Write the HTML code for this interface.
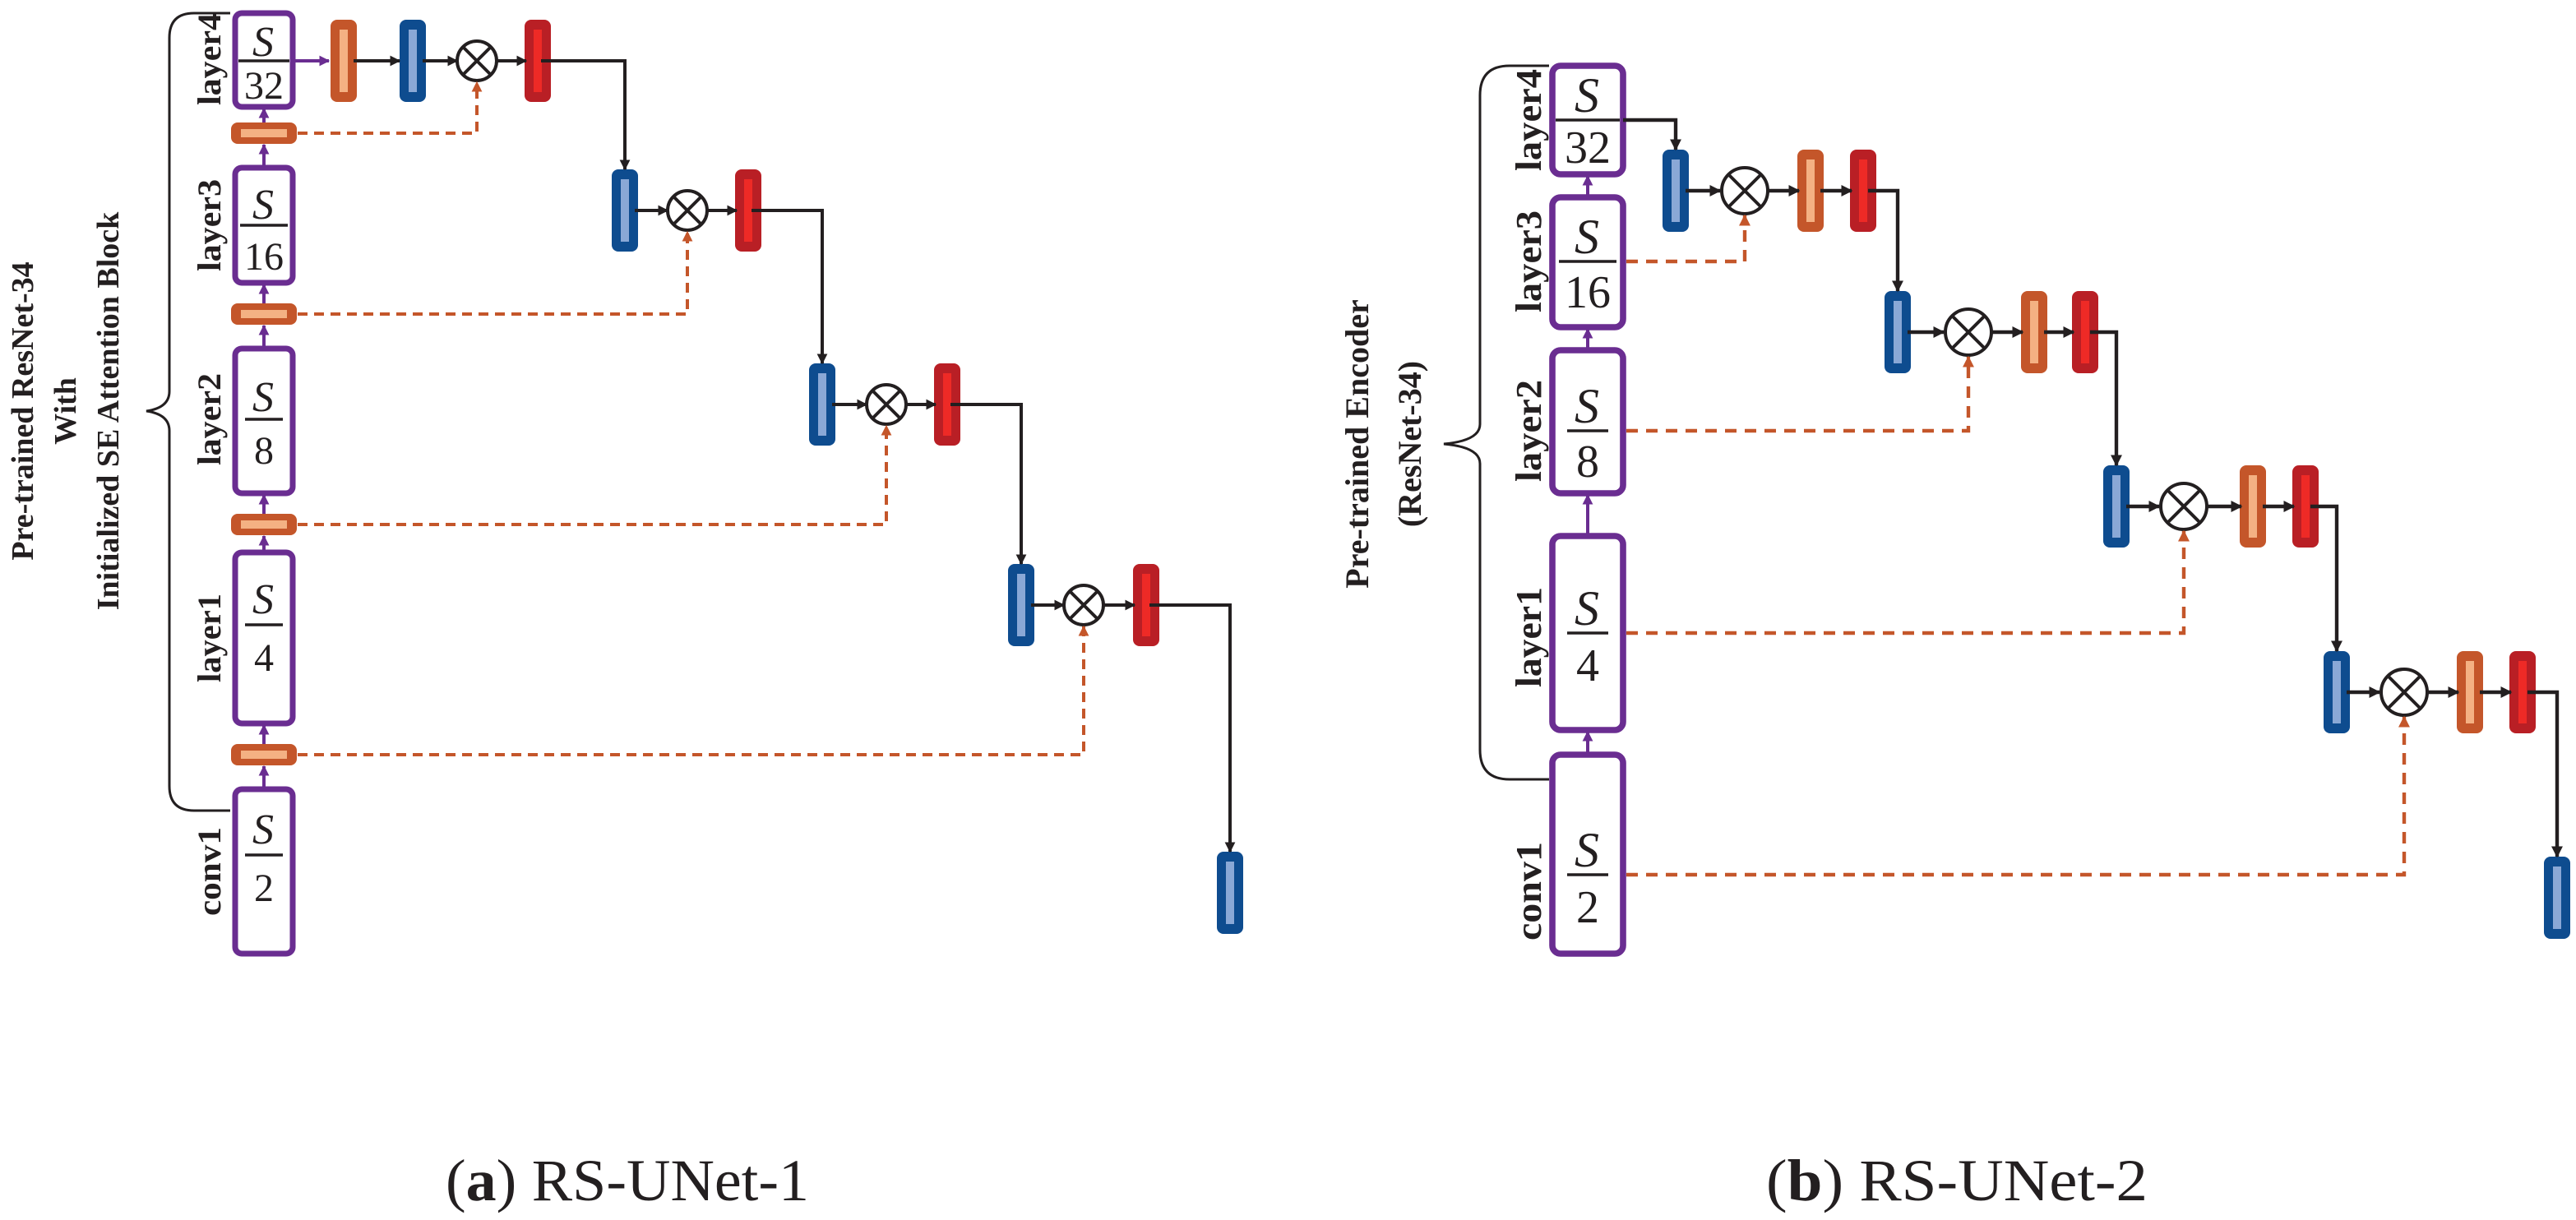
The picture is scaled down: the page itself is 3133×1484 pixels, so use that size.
<!DOCTYPE html>
<html><head><meta charset="utf-8"><style>
html,body{margin:0;padding:0;background:#fff;}
svg{display:block;}
text{font-family:"Liberation Serif",serif;fill:#231f20;}
.lb{font-weight:bold;font-size:20px;}
.t{font-weight:bold;font-size:19px;}
.S{font-style:italic;font-size:26px;}
.n{font-size:24px;}
</style></head><body>
<svg width="3133" height="1484" viewBox="0 0 1566.5 742" xmlns="http://www.w3.org/2000/svg">
<defs>
<marker id="ab" viewBox="0 0 10 10" refX="9" refY="5" markerWidth="3.2" markerHeight="3.2" orient="auto"><path d="M0,0L10,5L0,10z" fill="#231f20"/></marker>
<marker id="ap" viewBox="0 0 10 10" refX="9" refY="5" markerWidth="3.2" markerHeight="3.2" orient="auto"><path d="M0,0L10,5L0,10z" fill="#6a2d91"/></marker>
<marker id="ao" viewBox="0 0 10 10" refX="9" refY="5" markerWidth="3.2" markerHeight="3.2" orient="auto"><path d="M0,0L10,5L0,10z" fill="#c4562a"/></marker>
<g id="B"><rect x="-8" y="-25" width="16" height="50" rx="4" fill="#0e4c8f"/><rect x="-2.5" y="-19" width="5" height="38" fill="#8aa8d6"/></g>
<g id="O"><rect x="-8" y="-25" width="16" height="50" rx="4" fill="#c4562a"/><rect x="-2.5" y="-19" width="5" height="38" fill="#f4b183"/></g>
<g id="R"><rect x="-8" y="-25" width="16" height="50" rx="4" fill="#b91f25"/><rect x="-2.5" y="-19" width="5" height="38" fill="#ee2a26"/></g>
<g id="H"><rect x="-20" y="-6.5" width="40" height="13" rx="4" fill="#c4562a"/><rect x="-14" y="-2.5" width="28" height="5" fill="#f4b183"/></g>
<g id="X"><circle r="12" fill="#fff" stroke="#231f20" stroke-width="2"/><path d="M-8.5,-8.5L8.5,8.5M8.5,-8.5L-8.5,8.5" stroke="#231f20" stroke-width="2"/></g>
<g id="X2"><circle r="14" fill="#fff" stroke="#231f20" stroke-width="2"/><path d="M-10,-10L10,10M10,-10L-10,10" stroke="#231f20" stroke-width="2"/></g>
</defs>

<!-- ================= LEFT (a) ================= -->
<text class="t" transform="translate(20,250) rotate(-90)" text-anchor="middle">Pre-trained ResNet-34</text>
<text class="t" transform="translate(46,250) rotate(-90)" text-anchor="middle">With</text>
<text class="t" transform="translate(72,250) rotate(-90)" text-anchor="middle">Initialized SE Attention Block</text>
<path d="M140,8 H118 Q103,8 103,23 V238 Q103,248 89,250 Q103,252 103,262 V478 Q103,493 118,493 H140" fill="none" stroke="#231f20" stroke-width="1.5"/>

<g fill="#fff" stroke="#6a2d91" stroke-width="3.5">
<rect x="143" y="8" width="35" height="57" rx="4"/>
<rect x="143" y="102" width="35" height="70" rx="4"/>
<rect x="143" y="212" width="35" height="88" rx="4"/>
<rect x="143" y="336" width="35" height="104" rx="4"/>
<rect x="143" y="480" width="35" height="100" rx="4"/>
</g>
<g stroke="#6a2d91" stroke-width="2" marker-end="url(#ap)">
<line x1="160.5" y1="75" x2="160.5" y2="66"/>
<line x1="160.5" y1="102" x2="160.5" y2="88"/>
<line x1="160.5" y1="185" x2="160.5" y2="173"/>
<line x1="160.5" y1="212" x2="160.5" y2="198"/>
<line x1="160.5" y1="313" x2="160.5" y2="301"/>
<line x1="160.5" y1="336" x2="160.5" y2="326"/>
<line x1="160.5" y1="453" x2="160.5" y2="441"/>
<line x1="160.5" y1="480" x2="160.5" y2="466"/>
</g>
<use href="#H" x="160.5" y="81"/><use href="#H" x="160.5" y="191"/><use href="#H" x="160.5" y="319"/><use href="#H" x="160.5" y="459"/>
<g stroke="#231f20" stroke-width="1.8">
<line x1="145" y1="37" x2="176" y2="37"/>
<line x1="146" y1="137" x2="175" y2="137"/>
<line x1="149" y1="255" x2="172" y2="255"/>
<line x1="149" y1="380" x2="172" y2="380"/>
<line x1="149" y1="520" x2="172" y2="520"/>
</g>
<g text-anchor="middle">
<text class="S" x="160" y="34">S</text><text class="n" x="160.5" y="60">32</text>
<text class="S" x="160" y="133">S</text><text class="n" x="160.5" y="164">16</text>
<text class="S" x="160" y="250">S</text><text class="n" x="160.5" y="282">8</text>
<text class="S" x="160" y="373">S</text><text class="n" x="160.5" y="408">4</text>
<text class="S" x="160" y="513">S</text><text class="n" x="160.5" y="548">2</text>
</g>
<text class="lb" transform="translate(134,64) rotate(-90)" textLength="56" lengthAdjust="spacingAndGlyphs">layer4</text>
<text class="lb" transform="translate(134,165) rotate(-90)" textLength="56" lengthAdjust="spacingAndGlyphs">layer3</text>
<text class="lb" transform="translate(134,283) rotate(-90)" textLength="56" lengthAdjust="spacingAndGlyphs">layer2</text>
<text class="lb" transform="translate(134,415) rotate(-90)" textLength="54" lengthAdjust="spacingAndGlyphs">layer1</text>
<text class="lb" transform="translate(134,557) rotate(-90)" textLength="54" lengthAdjust="spacingAndGlyphs">conv1</text>

<!-- left decoder -->
<line x1="178" y1="37" x2="200" y2="37" stroke="#6a2d91" stroke-width="2" marker-end="url(#ap)"/>
<use href="#O" x="209" y="37"/><use href="#B" x="251" y="37"/><use href="#X" x="290" y="37"/><use href="#R" x="327" y="37"/>
<use href="#B" x="380" y="128"/><use href="#X" x="418" y="128"/><use href="#R" x="455" y="128"/>
<use href="#B" x="500" y="246"/><use href="#X" x="539" y="246"/><use href="#R" x="576" y="246"/>
<use href="#B" x="621" y="368"/><use href="#X" x="659" y="368"/><use href="#R" x="697" y="368"/>
<use href="#B" x="748" y="543"/>
<g stroke="#231f20" stroke-width="2" fill="none" marker-end="url(#ab)">
<line x1="215" y1="37" x2="243" y2="37"/><line x1="257" y1="37" x2="278" y2="37"/><line x1="302" y1="37" x2="320" y2="37"/>
<path d="M329,37 H380 V103"/>
<line x1="386" y1="128" x2="406" y2="128"/><line x1="430" y1="128" x2="448" y2="128"/>
<path d="M457,128 H500 V221"/>
<line x1="506" y1="246" x2="527" y2="246"/><line x1="551" y1="246" x2="569" y2="246"/>
<path d="M578,246 H621 V343"/>
<line x1="627" y1="368" x2="647" y2="368"/><line x1="671" y1="368" x2="690" y2="368"/>
<path d="M699,368 H748 V518"/>
</g>
<g stroke="#c4562a" stroke-width="2" fill="none" stroke-dasharray="6,4" marker-end="url(#ao)">
<path d="M181,81 H290 V50"/>
<path d="M181,191 H418 V141"/>
<path d="M181,319 H539 V259"/>
<path d="M181,459 H659 V381"/>
</g>

<!-- ================= RIGHT (b) ================= -->
<text class="t" style="font-size:20px" transform="translate(832,270) rotate(-90)" text-anchor="middle">Pre-trained Encoder</text>
<text class="t" style="font-size:20px" transform="translate(864,270) rotate(-90)" text-anchor="middle">(ResNet-34)</text>
<path d="M942,40 H918 Q900,40 900,58 V258 Q900,268 878,270 Q900,272 900,282 V456 Q900,474 918,474 H942" fill="none" stroke="#231f20" stroke-width="1.5"/>

<g fill="#fff" stroke="#6a2d91" stroke-width="3.8">
<rect x="944" y="40" width="43" height="66" rx="5"/>
<rect x="944" y="120" width="43" height="79" rx="5"/>
<rect x="944" y="213" width="43" height="87" rx="5"/>
<rect x="944" y="326" width="43" height="118" rx="5"/>
<rect x="944" y="459" width="43" height="121" rx="5"/>
</g>
<g stroke="#6a2d91" stroke-width="2" marker-end="url(#ap)">
<line x1="965.5" y1="120" x2="965.5" y2="107"/>
<line x1="965.5" y1="213" x2="965.5" y2="200"/>
<line x1="965.5" y1="326" x2="965.5" y2="301"/>
<line x1="965.5" y1="459" x2="965.5" y2="445"/>
</g>
<g stroke="#231f20" stroke-width="1.8">
<line x1="946" y1="73" x2="985" y2="73"/>
<line x1="948" y1="159" x2="983" y2="159"/>
<line x1="953" y1="262" x2="978" y2="262"/>
<line x1="953" y1="385" x2="978" y2="385"/>
<line x1="953" y1="532" x2="978" y2="532"/>
</g>
<g text-anchor="middle">
<text class="S" style="font-size:30px" x="965" y="68">S</text><text class="n" style="font-size:28px" x="965.5" y="99">32</text>
<text class="S" style="font-size:30px" x="965" y="154">S</text><text class="n" style="font-size:28px" x="965.5" y="187">16</text>
<text class="S" style="font-size:30px" x="965" y="257">S</text><text class="n" style="font-size:28px" x="965.5" y="290">8</text>
<text class="S" style="font-size:30px" x="965" y="380">S</text><text class="n" style="font-size:28px" x="965.5" y="414">4</text>
<text class="S" style="font-size:30px" x="965" y="527">S</text><text class="n" style="font-size:28px" x="965.5" y="561">2</text>
</g>
<text class="lb" style="font-size:22px" transform="translate(937,104) rotate(-90)" textLength="62" lengthAdjust="spacingAndGlyphs">layer4</text>
<text class="lb" style="font-size:22px" transform="translate(937,190) rotate(-90)" textLength="62" lengthAdjust="spacingAndGlyphs">layer3</text>
<text class="lb" style="font-size:22px" transform="translate(937,293) rotate(-90)" textLength="62" lengthAdjust="spacingAndGlyphs">layer2</text>
<text class="lb" style="font-size:22px" transform="translate(937,418) rotate(-90)" textLength="61" lengthAdjust="spacingAndGlyphs">layer1</text>
<text class="lb" style="font-size:22px" transform="translate(937,572) rotate(-90)" textLength="60" lengthAdjust="spacingAndGlyphs">conv1</text>

<!-- right decoder -->
<use href="#B" x="1019" y="116"/><use href="#X2" x="1061" y="116"/><use href="#O" x="1101" y="116"/><use href="#R" x="1133" y="116"/>
<use href="#B" x="1154" y="202"/><use href="#X2" x="1197" y="202"/><use href="#O" x="1237" y="202"/><use href="#R" x="1268" y="202"/>
<use href="#B" x="1287" y="308"/><use href="#X2" x="1328" y="308"/><use href="#O" x="1370" y="308"/><use href="#R" x="1402" y="308"/>
<use href="#B" x="1421" y="421"/><use href="#X2" x="1462" y="421"/><use href="#O" x="1502" y="421"/><use href="#R" x="1534" y="421"/>
<use href="#B" x="1555" y="546"/>
<g stroke="#231f20" stroke-width="2.2" fill="none" marker-end="url(#ab)">
<path d="M987,73 H1019 V91"/>
<line x1="1025" y1="116" x2="1046" y2="116"/><line x1="1075" y1="116" x2="1094" y2="116"/><line x1="1107" y1="116" x2="1126" y2="116"/>
<path d="M1136,116 H1154 V177"/>
<line x1="1160" y1="202" x2="1182" y2="202"/><line x1="1211" y1="202" x2="1230" y2="202"/><line x1="1243" y1="202" x2="1261" y2="202"/>
<path d="M1271,202 H1287 V283"/>
<line x1="1293" y1="308" x2="1313" y2="308"/><line x1="1342" y1="308" x2="1363" y2="308"/><line x1="1376" y1="308" x2="1395" y2="308"/>
<path d="M1405,308 H1421 V396"/>
<line x1="1427" y1="421" x2="1447" y2="421"/><line x1="1476" y1="421" x2="1495" y2="421"/><line x1="1508" y1="421" x2="1527" y2="421"/>
<path d="M1537,421 H1555 V521"/>
</g>
<g stroke="#c4562a" stroke-width="2.2" fill="none" stroke-dasharray="7,5" marker-end="url(#ao)">
<path d="M989,159 H1061 V131"/>
<path d="M989,262 H1197 V217"/>
<path d="M989,385 H1328 V323"/>
<path d="M989,532 H1462 V436"/>
</g>

<!-- captions -->
<text x="271" y="730" style="font-size:36px" textLength="221" lengthAdjust="spacingAndGlyphs">(<tspan font-weight="bold">a</tspan>) RS-UNet-1</text>
<text x="1074" y="730" style="font-size:36px" textLength="232" lengthAdjust="spacingAndGlyphs">(<tspan font-weight="bold">b</tspan>) RS-UNet-2</text>
</svg>
</body></html>
